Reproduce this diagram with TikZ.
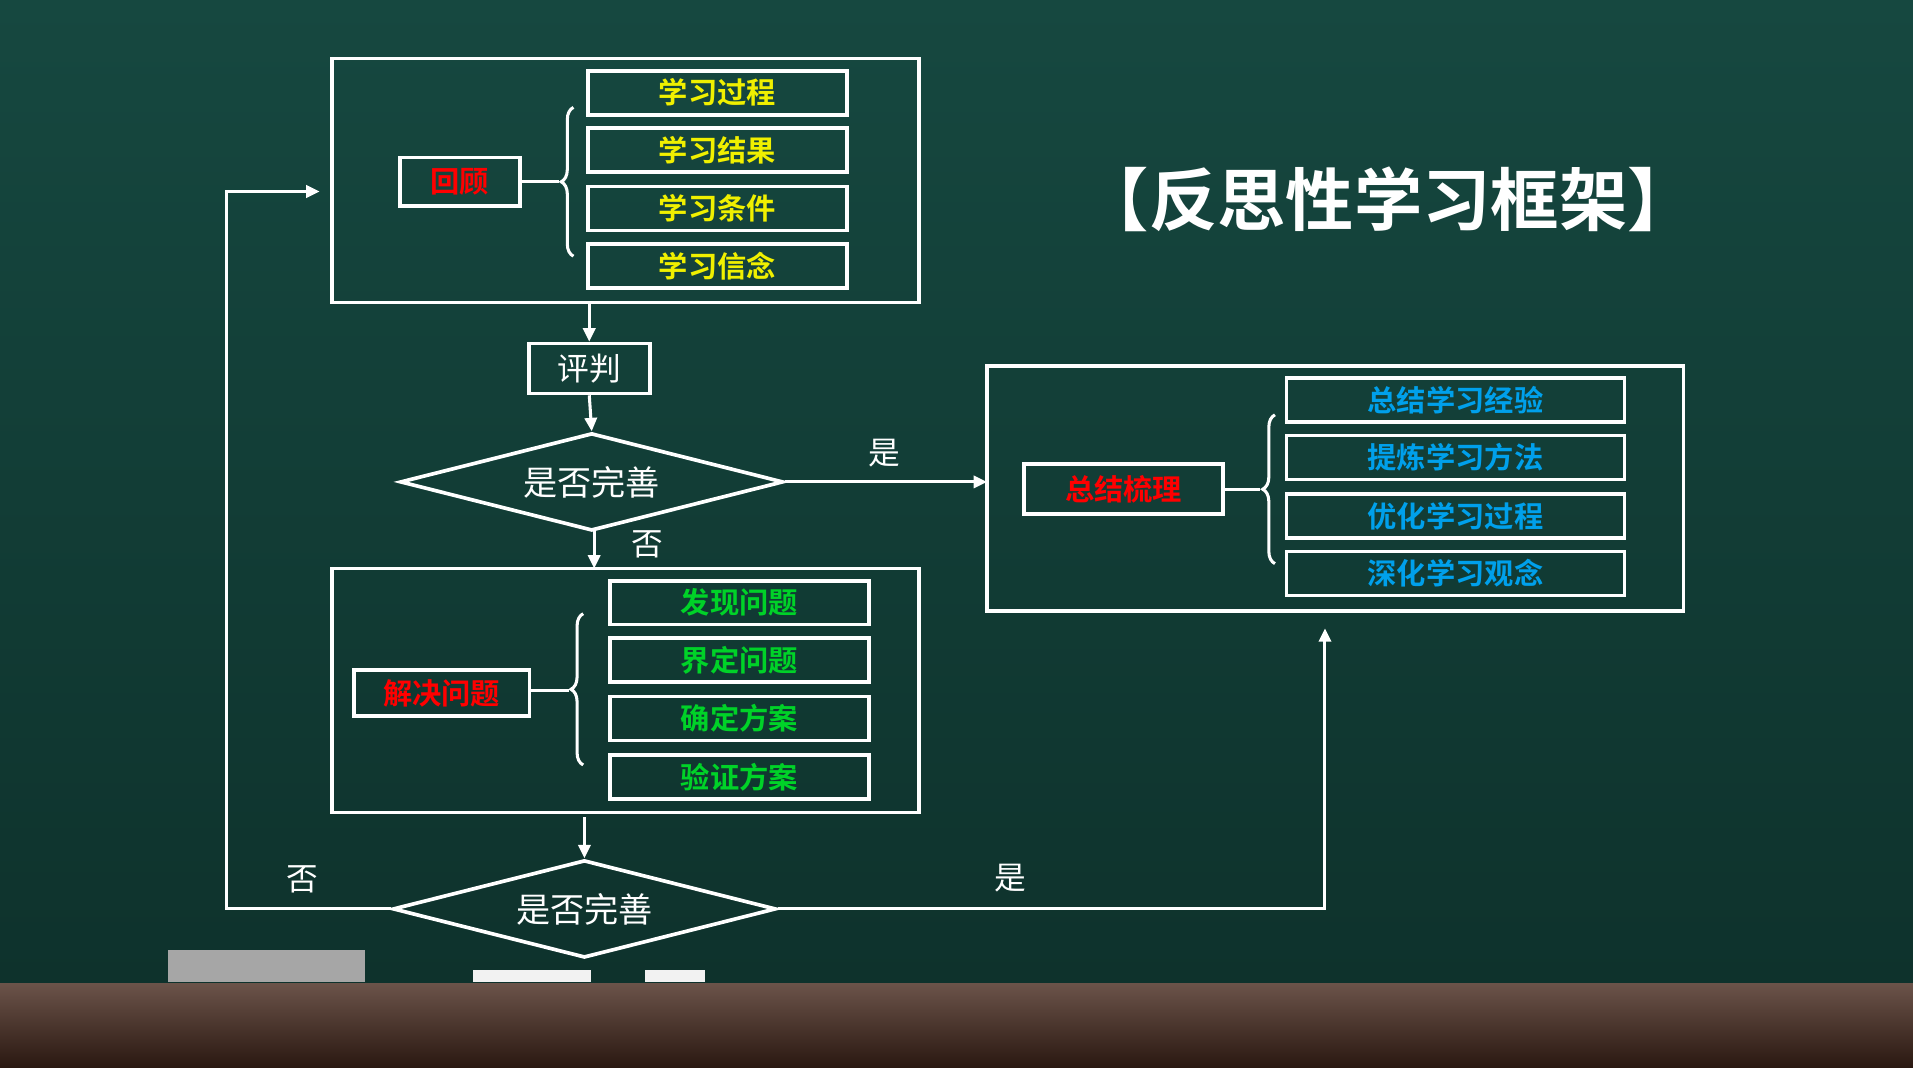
\documentclass[tikz,border=0pt]{standalone}
\usepackage{fontspec}
\setmainfont{Noto Sans CJK SC}
\newfontfamily\cjkb{Noto Sans CJK SC Bold}
\usetikzlibrary{shapes.geometric,decorations.pathreplacing,arrows.meta}
\definecolor{boardA}{RGB}{22,72,64}
\definecolor{boardB}{RGB}{14,50,44}
\definecolor{wood}{RGB}{70,40,28}
\definecolor{itemY}{RGB}{240,240,0}
\definecolor{itemG}{RGB}{0,210,40}
\definecolor{itemB}{RGB}{0,160,235}
\begin{document}
\begin{tikzpicture}[x=1pt,y=-1pt,
  wl/.style={draw=white,line width=3pt},
  frame/.style={draw=white,line width=3pt},
  item/.style={draw=white,line width=3pt,minimum height=36pt,inner sep=0pt,font=\cjkb\fontsize{24}{24}\selectfont},
  lab/.style={draw=white,line width=3pt,inner sep=0pt,font=\cjkb\fontsize{24}{24}\selectfont,text=red},
  dia/.style={draw=white,line width=3pt,diamond,aspect=3.9,inner sep=0pt,minimum width=314pt,minimum height=80pt,text=white,font=\fontsize{28}{28}\selectfont},
  arr/.style={draw=white,line width=2.5pt,-{Triangle[length=11pt,width=10pt]}},
  brc/.style={draw=white,line width=2.5pt,decorate,decoration={brace,amplitude=10pt}},
  wt/.style={text=white,font=\fontsize{26}{26}\selectfont}]
\useasboundingbox (0,0) rectangle (1568,875);
\shade[top color=boardA,bottom color=boardB] (0,0) rectangle (1568,806);
\shade[top color=wood!80!white,bottom color=wood!60!black] (0,806) rectangle (1568,875);
\fill[gray!70] (138,779) rectangle (299,805);
\fill[white!90!gray] (388,795) rectangle (484,805);
\fill[white!90!gray] (529,795) rectangle (578,805);
% title
\node[text=white,font=\cjkb\fontsize{56}{56}\selectfont] (title) at (1138,163) {【反思性学习框架】};
% box 1
\draw[frame] (272,48) rectangle (753,248);
\node[lab,minimum width=98pt,minimum height=40pt] (hg) at (377,149) {回顾};
\foreach \t/\y/\n in {学习过程/76/a1,学习结果/123/a2,学习条件/171/a3,学习信念/218/a4}
  \node[item,minimum width=212pt,text=itemY] (\n) at (588,\y) {\t};
\draw[brc] (470,210) -- (470,88);
\draw[wl,line width=2.5pt] (426,149) -- (458,149);
% judge
\coordinate (b1b) at (483,248);
\node[draw=white,line width=3pt,minimum width=99pt,minimum height=41pt,inner sep=0pt,text=white,font=\fontsize{26}{26}\selectfont] (pp) at (483,302) {评判};
\draw[arr] (b1b) -- (pp.north);
\node[dia] (d1) at (485,395) {是否完善};
\draw[arr] (pp.south) -- (d1.north);
% right box
\draw[frame] (809,300) rectangle (1380,501);
\coordinate (rb) at (809,395);
\draw[arr] (d1.east) -- (rb);
\node[wt] (y1) at (725,371) {是};
\node[lab,minimum width=163pt,minimum height=41pt] (zj) at (921,401) {总结梳理};
\foreach \t/\y/\n in {总结学习经验/328/c1,提炼学习方法/375/c2,优化学习过程/423/c3,深化学习观念/470/c4}
  \node[item,minimum width=277pt,text=itemB] (\n) at (1193,\y) {\t};
\draw[brc] (1045,462) -- (1045,340);
\draw[wl,line width=2.5pt] (1003,401) -- (1033,401);
% box 2
\draw[frame] (272,466) rectangle (753,666);
\coordinate (b2t) at (487,466);
\draw[arr] (487,435) -- (b2t);
\node[wt] (n1) at (531,446) {否};
\node[lab,minimum width=144pt,minimum height=38pt] (jj) at (362,568) {解决问题};
\foreach \t/\y/\n in {发现问题/494/e1,界定问题/541/e2,确定方案/589/e3,验证方案/637/e4}
  \node[item,minimum width=212pt,text=itemG] (\n) at (606,\y) {\t};
\draw[brc] (478,627) -- (478,503);
\draw[wl,line width=2.5pt] (434,566) -- (466,566);
% diamond 2
\coordinate (b2b) at (479,670);
\node[dia] (d2) at (479,745) {是否完善};
\draw[arr] (b2b) -- (d2.north);
\coordinate (back) at (262,157);
\draw[arr] (d2.west) -- (186,745) -- (186,157) -- (back);
\node[wt] (n2) at (248,721) {否};
\coordinate (up) at (1086,515);
\draw[arr] (d2.east) -- (1086,745) -- (up);
\node[wt] (y2) at (828,720) {是};
\end{tikzpicture}
\end{document}
